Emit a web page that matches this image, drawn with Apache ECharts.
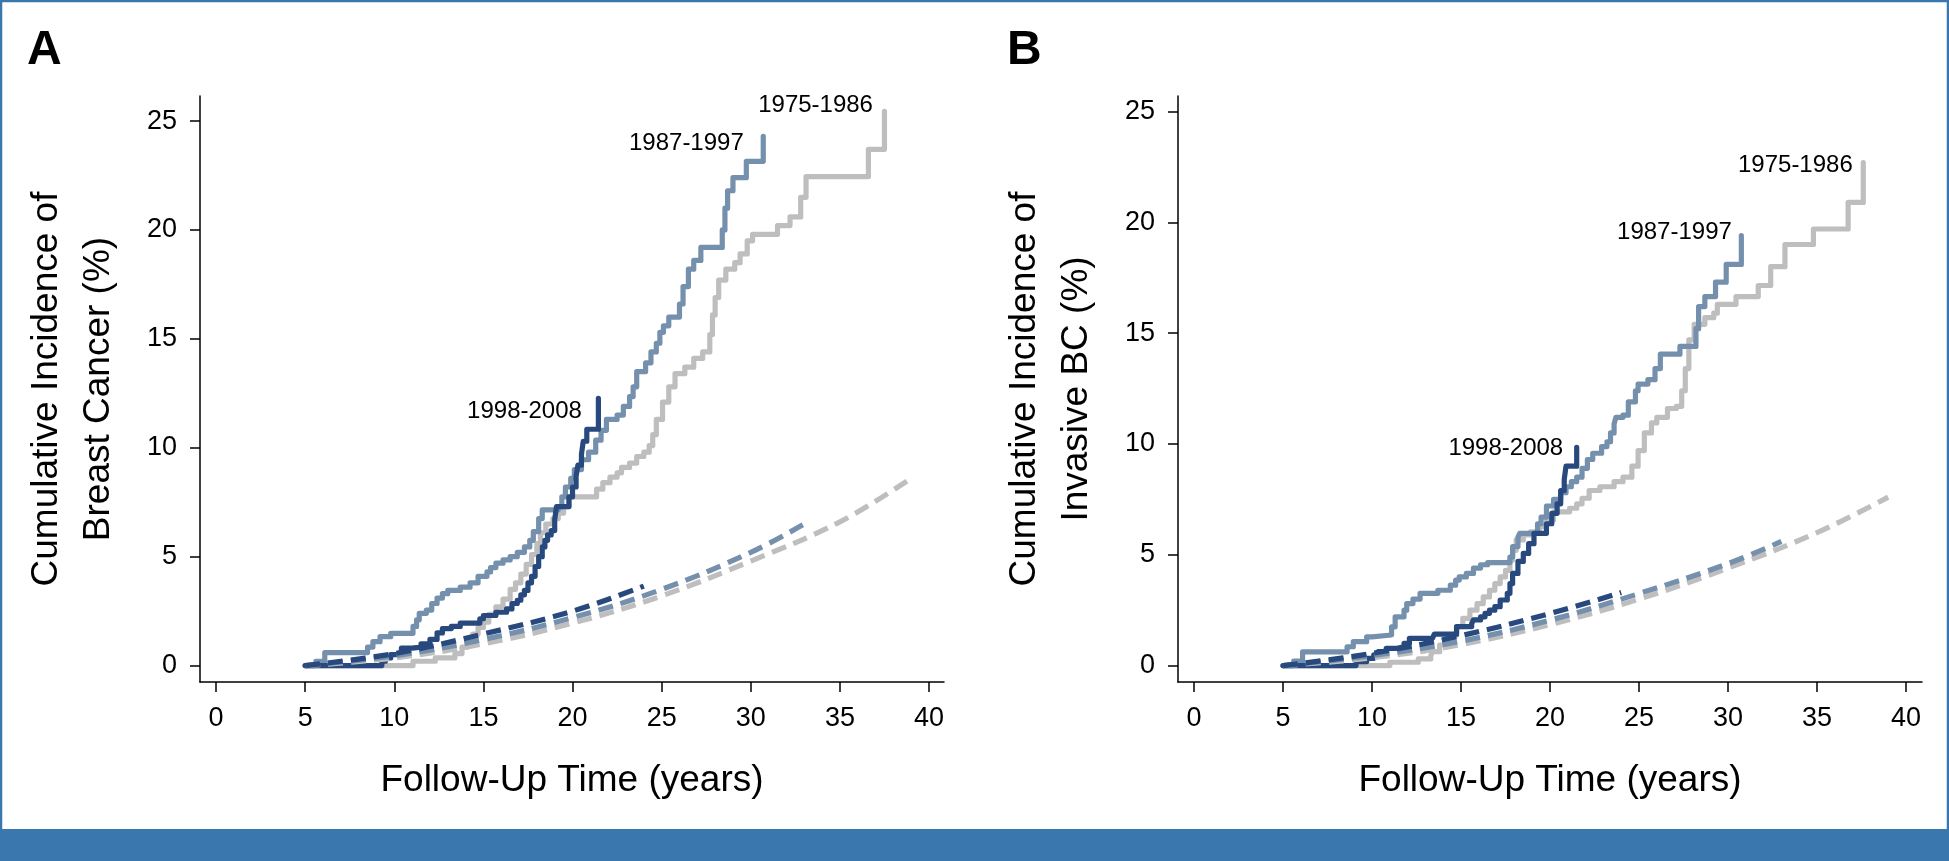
<!DOCTYPE html>
<html><head><meta charset="utf-8">
<script src="https://cdn.jsdelivr.net/npm/echarts@6/dist/echarts.min.js"></script>
<style>html,body{margin:0;padding:0;background:#fff}#c{width:1949px;height:861px}</style>
</head><body><div id="c"></div>
<script>
// ---------- data ----------
const xTicks = [0, 5, 10, 15, 20, 25, 30, 35, 40];
const yTicks = [0, 5, 10, 15, 20, 25];
const periodNames = ['1975-1986', '1987-1997', '1998-2008'];
const panelLetters = ['A', 'B'];
const xTitle = 'Follow-Up Time (years)';
const yTitles = ['Cumulative Incidence of\nBreast Cancer (%)', 'Cumulative Incidence of\nInvasive BC (%)'];

// Panel A – observed cumulative incidence (step curves) [years, %]
const obsA1975 = [[5,0],[11.05,0.2],[12.3,0.35],[13.4,0.55],[13.8,0.85],[14.1,1.15],[14.4,1.45],[14.7,1.75],[15.0,2.0],[15.3,2.35],[15.7,2.7],[16.1,3.05],[16.5,3.5],[16.8,3.8],[17.1,4.2],[17.4,4.65],[17.7,5.1],[18.0,5.6],[18.2,6.1],[18.5,6.5],[18.9,6.75],[19.2,7.0],[19.5,7.3],[19.8,7.75],[21.35,8.1],[21.7,8.4],[22.1,8.65],[22.5,8.85],[22.75,9.1],[23.2,9.3],[23.6,9.6],[24.0,9.8],[24.3,10.1],[24.5,10.6],[24.7,11.3],[25.05,12.1],[25.4,12.8],[25.75,13.4],[26.3,13.7],[26.8,14.1],[27.3,14.4],[27.7,15.2],[27.85,16.1],[28.0,16.9],[28.2,17.7],[28.6,18.2],[29.1,18.5],[29.4,18.9],[29.8,19.5],[30.1,19.8],[31.5,20.2],[32.2,20.6],[32.8,21.5],[33.1,22.45],[36.6,23.7],[37.5,25.45]];
const obsA1987 = [[5,0],[5.6,0.2],[6.1,0.6],[8.5,0.85],[8.8,1.1],[9.2,1.33],[9.8,1.48],[11.05,1.8],[11.25,2.1],[11.4,2.4],[11.8,2.55],[12.1,2.85],[12.4,3.1],[12.7,3.3],[13.0,3.45],[13.7,3.6],[14.25,3.8],[14.7,4.1],[15.2,4.3],[15.4,4.5],[15.7,4.7],[16.1,4.85],[16.5,5.0],[16.9,5.2],[17.3,5.45],[17.6,5.75],[17.8,6.15],[18.1,6.75],[18.3,7.15],[19.2,7.3],[19.4,7.75],[19.6,8.2],[19.9,8.6],[20.1,9.0],[20.5,9.45],[20.9,9.8],[21.3,10.35],[21.6,10.8],[21.9,11.3],[22.5,11.5],[22.85,11.9],[23.2,12.35],[23.4,12.8],[23.6,13.5],[24.1,13.9],[24.4,14.4],[24.7,14.8],[24.9,15.3],[25.1,15.6],[25.4,16.0],[26.0,16.6],[26.2,17.4],[26.5,18.2],[26.8,18.6],[27.2,19.2],[28.4,20.0],[28.55,21.0],[28.7,21.8],[29.0,22.4],[29.75,23.15],[30.7,24.3]];
const obsA1998 = [[5,0],[9.3,0.2],[9.5,0.35],[9.8,0.5],[10.4,0.8],[11.0,0.85],[11.5,1.0],[12.0,1.2],[12.4,1.5],[12.7,1.7],[13.2,1.8],[13.7,1.95],[14.8,2.15],[15.0,2.3],[15.7,2.45],[16.3,2.6],[16.6,2.85],[16.9,3.0],[17.1,3.25],[17.3,3.45],[17.5,3.8],[17.7,4.1],[17.9,4.55],[18.1,5.0],[18.3,5.45],[18.45,5.75],[18.6,6.0],[18.8,6.2],[19.0,6.7],[19.1,7.3],[19.8,7.75],[20.0,8.2],[20.2,8.7],[20.3,9.2],[20.5,9.7],[20.6,10.3],[20.8,10.85],[21.45,12.27]];
// Panel A – expected incidence (dashed)
const expA1975 = [[5,0],[10,0.35],[15,1.0],[20,1.95],[25,3.2],[30,4.8],[35,6.6],[39,8.6]];
const expA1987 = [[5,0],[10,0.45],[15,1.2],[20,2.2],[25,3.5],[30,5.2],[33,6.5]];
const expA1998 = [[5,0],[10,0.55],[15,1.45],[20,2.5],[24,3.65]];

// Panel B – observed cumulative incidence of invasive BC
const obsB1975 = [[5,0],[11.0,0.15],[12.6,0.3],[13.3,0.45],[13.4,0.63],[13.8,0.93],[14.2,1.15],[14.6,1.38],[14.75,1.76],[15.1,2.13],[15.5,2.5],[15.9,2.8],[16.25,3.1],[16.6,3.4],[16.9,3.7],[17.2,4.0],[17.5,4.3],[17.75,4.76],[17.9,5.2],[18.1,5.67],[18.5,5.9],[18.9,6.04],[19.4,6.27],[19.8,6.57],[20.2,6.94],[21.1,7.1],[21.5,7.3],[21.8,7.55],[22.2,7.9],[22.8,8.07],[23.6,8.3],[24.1,8.5],[24.6,9.0],[24.95,9.7],[25.3,10.5],[25.7,10.95],[26.0,11.2],[26.6,11.6],[27.1,11.7],[27.4,12.4],[27.6,13.4],[27.8,14.7],[28.1,15.4],[28.7,15.7],[29.2,15.9],[29.4,16.3],[30.45,16.65],[31.7,17.15],[32.4,18.0],[33.2,19.0],[34.8,19.7],[36.75,20.9],[37.6,22.7]];
const obsB1987 = [[5,0],[5.6,0.2],[6.1,0.62],[8.6,0.85],[8.95,1.08],[9.7,1.3],[10.0,1.38],[11.1,1.75],[11.3,2.2],[11.8,2.5],[11.95,2.8],[12.3,3.0],[12.7,3.26],[13.7,3.4],[14.4,3.63],[14.7,3.86],[14.9,4.0],[15.3,4.16],[15.7,4.4],[16.1,4.55],[16.5,4.65],[17.75,4.9],[17.9,5.37],[18.2,5.8],[18.3,5.97],[19.3,6.4],[19.5,6.7],[19.8,7.2],[20.2,7.5],[20.6,7.8],[20.9,8.07],[21.2,8.3],[21.5,8.5],[21.8,8.9],[22.1,9.3],[22.4,9.58],[22.9,9.88],[23.2,10.1],[23.4,10.5],[23.6,10.9],[23.7,11.2],[24.1,11.3],[24.4,11.9],[24.8,12.4],[24.95,12.7],[25.5,12.9],[25.9,13.4],[26.2,14.05],[27.3,14.4],[28.2,15.2],[28.35,16.2],[28.7,16.65],[29.3,17.3],[29.9,18.1],[30.75,19.4]];
const obsB1998 = [[5,0],[9.1,0.18],[9.7,0.33],[10.1,0.48],[10.35,0.63],[10.8,0.78],[11.4,0.85],[11.8,1.0],[12.1,1.23],[13.4,1.3],[13.5,1.42],[14.75,1.76],[15.6,1.9],[15.7,2.06],[16.1,2.2],[16.35,2.36],[16.6,2.5],[16.9,2.66],[17.2,2.96],[17.6,3.26],[17.75,3.7],[17.9,4.16],[18.2,4.7],[18.5,5.06],[18.8,5.5],[19.1,5.97],[19.8,6.4],[20.1,6.87],[20.4,7.3],[20.6,7.9],[20.8,8.4],[20.9,9.0],[21.5,9.85]];
// Panel B – expected incidence (dashed)
const expB1975 = [[5,0],[10,0.35],[15,0.95],[20,1.85],[25,3.0],[30,4.4],[35,6.0],[39,7.6]];
const expB1987 = [[5,0],[10,0.45],[15,1.1],[20,2.05],[25,3.25],[30,4.6],[33,5.6]];
const expB1998 = [[5,0],[10,0.55],[15,1.35],[20,2.35],[24,3.3]];

// ---------- layout / style ----------
const FONT = 'Liberation Sans, Arial, Helvetica, sans-serif';
const colors = ['#BEBEBE', '#7590AD', '#27497D'];
const frameBlue = '#3A77AE';
const panels = [
  { grid: { left: 200, right: 1005, top: 96, bottom: 179 }, xMin: -0.9, xMax: 40.84, yMin: -0.753, yMax: 26.15,
    obs: [obsA1975, obsA1987, obsA1998], exp: [expA1975, expA1987, expA1998],
    lab: [{ d: 11, dy: -6 }, { d: 19, dy: 7 }, { d: 16, dy: 13 }], letterX: 27 },
  { grid: { left: 1178, right: 27, top: 96, bottom: 179 }, xMin: -0.9, xMax: 40.9, yMin: -0.74, yMax: 25.70,
    obs: [obsB1975, obsB1987, obsB1998], exp: [expB1975, expB1987, expB1998],
    lab: [{ d: 10, dy: 2.5 }, { d: 9, dy: -3.5 }, { d: 13, dy: 1.5 }], letterX: 1007 }
];

const grids = [], xAxes = [], yAxes = [], series = [], graphics = [];
graphics.push({ type: 'rect', silent: true, z: -10, shape: { x: 1, y: 1, width: 1947, height: 859 }, style: { fill: '#fff', stroke: frameBlue, lineWidth: 2.5 } });
graphics.push({ type: 'rect', silent: true, shape: { x: 0, y: 829, width: 1949, height: 32 }, style: { fill: frameBlue } });

panels.forEach((p, i) => {
  grids.push(Object.assign({ containLabel: false }, p.grid));
  const axisCommon = {
    axisLine: { show: true, onZero: false, lineStyle: { color: '#000', width: 1.5 } },
    axisTick: { show: true, length: 10, lineStyle: { color: '#000', width: 1.5 } },
    splitLine: { show: false }
  };
  xAxes.push(Object.assign({}, axisCommon, {
    gridIndex: i, type: 'value', min: p.xMin, max: p.xMax,
    axisTick: Object.assign({}, axisCommon.axisTick, { customValues: xTicks }),
    axisLabel: { customValues: xTicks, margin: 22, fontSize: 27, color: '#000', fontFamily: FONT, lineHeight: 30 },
    name: xTitle, nameLocation: 'middle', nameGap: 77,
    nameTextStyle: { fontSize: 37, color: '#000', fontFamily: FONT, lineHeight: 44 }
  }));
  yAxes.push(Object.assign({}, axisCommon, {
    gridIndex: i, type: 'value', min: p.yMin, max: p.yMax,
    axisTick: Object.assign({}, axisCommon.axisTick, { customValues: yTicks }),
    axisLabel: { customValues: yTicks, margin: 23, fontSize: 27, color: '#000', fontFamily: FONT },
    name: yTitles[i], nameLocation: 'middle', nameGap: 75, nameRotate: 90,
    nameTextStyle: { fontSize: 37, color: '#000', fontFamily: FONT, lineHeight: 52, align: 'center' }
  }));
  // observed step curves
  p.obs.forEach((d, k) => {
    const last = d[d.length - 1];
    series.push({
      type: 'line', xAxisIndex: i, yAxisIndex: i, step: 'end', data: d,
      symbol: 'none', silent: true, z: 2 + k,
      lineStyle: { color: colors[k], width: 5.2, cap: 'round', join: 'round' },
      markPoint: {
        symbol: 'circle', symbolSize: 1, silent: true,
        itemStyle: { color: 'rgba(0,0,0,0)' },
        label: { show: true, position: 'left', distance: p.lab[k].d, offset: [0, p.lab[k].dy],
                 formatter: periodNames[k], fontSize: 24, color: '#000', fontFamily: FONT },
        data: [{ coord: last }]
      }
    });
  });
  // expected dashed curves
  p.exp.forEach((d, k) => {
    series.push({
      type: 'line', xAxisIndex: i, yAxisIndex: i, smooth: 0.4, data: d,
      symbol: 'none', silent: true, z: 6 + k,
      lineStyle: { color: colors[k], width: 5.2, type: [15, 8], cap: 'butt' }
    });
  });
  graphics.push({ type: 'text', silent: true, x: p.letterX, y: 51,
    style: { text: panelLetters[i], font: 'bold 48px ' + FONT, fill: '#000', textAlign: 'left', textVerticalAlign: 'middle' } });
});

const chart = echarts.init(document.getElementById('c'), null, { renderer: 'canvas' });
chart.setOption({
  animation: false,
  backgroundColor: '#fff',
  grid: grids, xAxis: xAxes, yAxis: yAxes, series: series, graphic: graphics
});
</script></body></html>
